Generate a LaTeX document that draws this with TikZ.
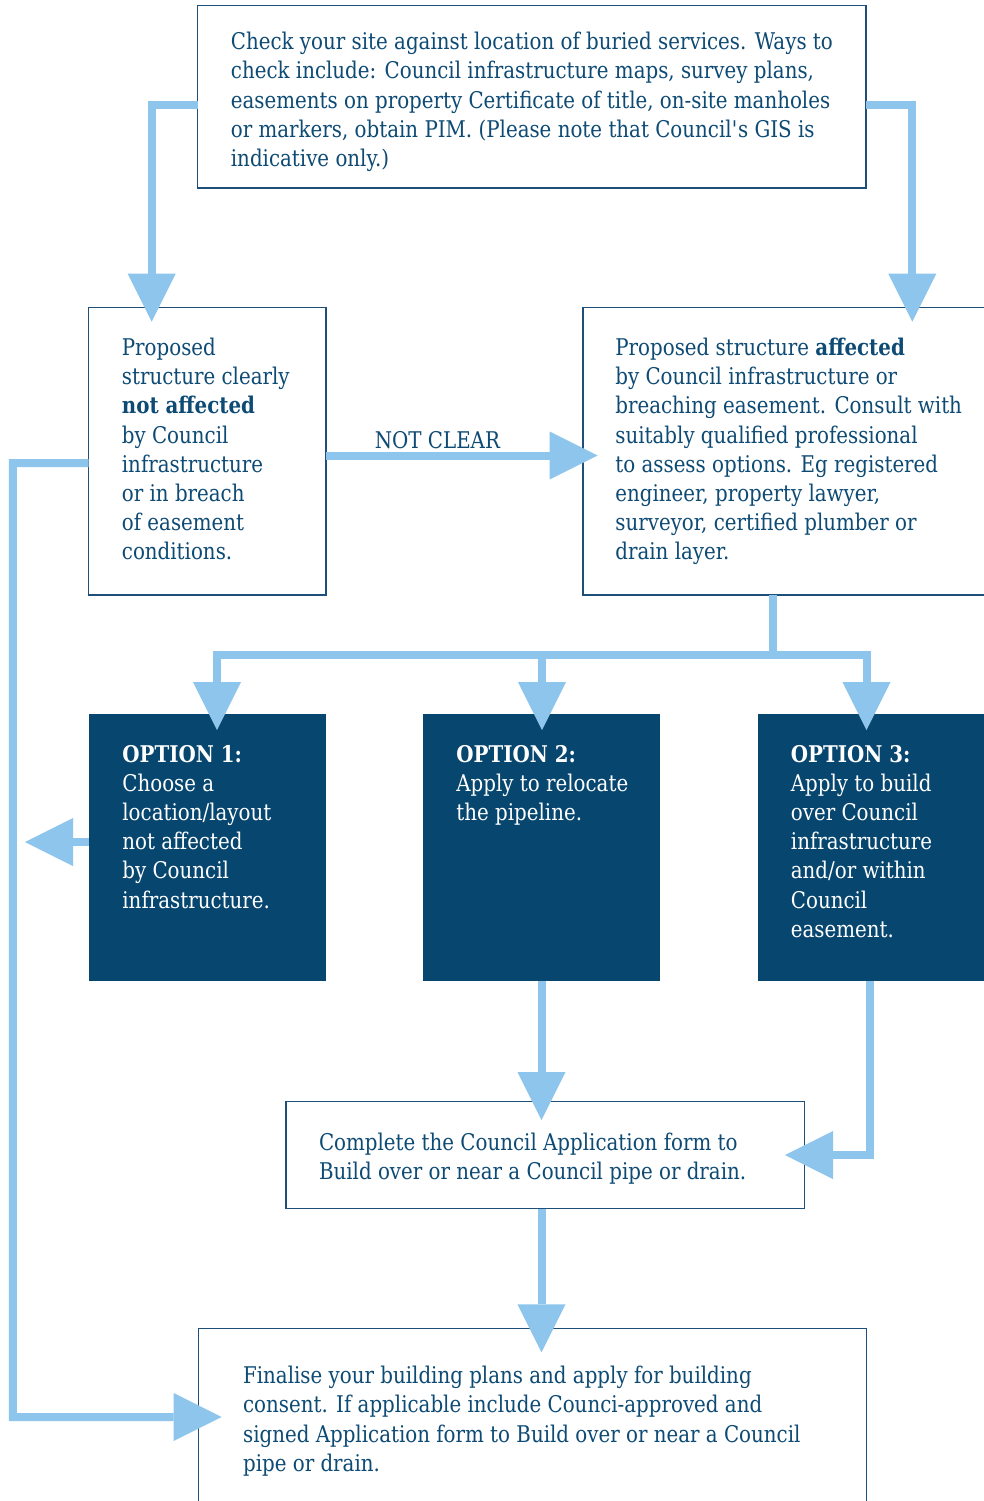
\documentclass[tikz,border=0pt]{standalone}
\usepackage{fontspec}
\setmainfont{DejaVu Serif}[FakeStretch=0.862]
\usetikzlibrary{arrows.meta,calc}
\definecolor{navy}{HTML}{07466F}
\definecolor{txt}{HTML}{0D4A74}
\definecolor{sky}{HTML}{8DC5EC}
\definecolor{edge}{HTML}{1D4F78}
\begin{document}
\begin{tikzpicture}[x=0.5pt,y=-0.5pt,
  box/.style={draw=edge, line width=0.65pt, fill=white, anchor=north west, inner sep=0pt, outer sep=0pt},
  obox/.style={fill=navy, anchor=north west, inner sep=0pt, outer sep=0pt},
  tx/.style={anchor=north west, inner sep=0pt, align=left, text=txt, font=\fontsize{11.5}{14.6}\selectfont},
  wtx/.style={tx, text=white},
  flow/.style={draw=sky, line width=4pt, line join=miter, -{Triangle[length=24pt,width=24pt,line width=0pt]}},
  lab/.style={text=txt, font=\fontsize{11.5}{14.6}\selectfont, inner sep=0pt}
  ]
\useasboundingbox (0,0) rectangle (984,1501);
\clip (0,0) rectangle (984,1501);
\fill[white] (0,0) rectangle (984,1501);

% boxes
\node[box, minimum width=334.25pt, minimum height=91.25pt] (top) at (197.5,5.5) {};
\node[box, minimum width=118.65pt, minimum height=143.65pt] (lbox) at (88.7,307.7) {};
\node[box, minimum width=206pt, minimum height=143.65pt] (rbox) at (583,307.7) {};
\node[obox, minimum width=118.5pt, minimum height=133.25pt] (opt1) at (89,714) {};
\node[obox, minimum width=118.5pt, minimum height=133.25pt] (opt2) at (423,714) {};
\node[obox, minimum width=118.5pt, minimum height=133.25pt] (opt3) at (758,714) {};
\node[box, minimum width=259.25pt, minimum height=53.5pt] (comp) at (286,1101.5) {};
\node[box, minimum width=334pt, minimum height=91pt] (final) at (198.3,1328.3) {};

% texts (top of node = first baseline - 20px)
\node[tx] (ttop) at (230.5,29.3) {\rule{0pt}{10pt}Check your site against location of buried services. Ways to\\
check include: Council infrastructure maps, survey plans,\\
easements on property Certificate of title, on-site manholes\\
or markers, obtain PIM. (Please note that Council\textquotesingle s GIS is\\
indicative only.)};
\node[tx] (tl) at (121.5,335) {\rule{0pt}{10pt}Proposed\\ structure clearly\\ \textbf{not affected}\\ by Council\\ infrastructure\\ or in breach\\ of easement\\ conditions.};
\node[tx] (tr) at (615,335) {\rule{0pt}{10pt}Proposed structure \textbf{affected}\\ by Council infrastructure or\\ breaching easement. Consult with\\ suitably qualified professional\\ to assess options. Eg registered\\ engineer, property lawyer,\\ surveyor, certified plumber or\\ drain layer.};
\node[wtx] (t1) at (122,741.7) {\rule{0pt}{10pt}\textbf{OPTION 1:}\\ Choose a\\ location/layout\\ not affected\\ by Council\\ infrastructure.};
\node[wtx] (t2) at (456,741.7) {\rule{0pt}{10pt}\textbf{OPTION 2:}\\ Apply to relocate\\ the pipeline.};
\node[wtx] (t3) at (790.5,741.7) {\rule{0pt}{10pt}\textbf{OPTION 3:}\\ Apply to build\\ over Council\\ infrastructure\\ and/or within\\ Council\\ easement.};
\node[tx] (tc) at (318.6,1130) {\rule{0pt}{10pt}Complete the Council Application form to\\ Build over or near a Council pipe or drain.};
\node[tx] (tf) at (242.7,1363.3) {\rule{0pt}{10pt}Finalise your building plans and apply for building\\ consent. If applicable include Counci-approved and\\ signed Application form to Build over or near a Council\\ pipe or drain.};

% connectors
\draw[flow] (top.west |- 0,104.5) -| ($(lbox.north west)+(63,14)$);
\draw[flow] (top.east |- 0,104.5) -| ($(rbox.north west)+(329.3,14)$);
\draw[flow] (lbox.east |- 0,455.5) -- node[lab, pos=0.41, anchor=base, yshift=3.6pt] {NOT CLEAR} ($(rbox.west |- 0,455.5)+(14.7,0)$);
\draw[flow] (lbox.west |- 0,463) -- (12.8,463) -- (12.8,1417) -- ($(final.north west)+(23.4,88.7)$);
\draw[flow] ($(rbox.south west)+(190,0)$) |- ($(opt1.north west)+(128,-59)$) -- ($(opt1.north west)+(128,16)$);
\draw[flow] ($(rbox.south west)+(190,0)$) |- ($(opt2.north west)+(119,-59)$) -- ($(opt2.north west)+(119,16)$);
\draw[flow] ($(rbox.south west)+(190,0)$) |- ($(opt3.north west)+(108.5,-59)$) -- ($(opt3.north west)+(108.5,16)$);
\draw[flow] (opt1.west |- 0,842) -- ($(opt1.west |- 0,842)+(-64,0)$);
\draw[flow] (opt2.south) -- ($(opt2.south |- comp.north)+(0,18.5)$);
\draw[flow] ($(opt3.south west)+(112,0)$) |- ($(comp.east)+(-19.5,0)$);
\draw[flow] (opt2.south |- comp.south) -- ($(opt2.south |- final.north)+(0,24)$);
\end{tikzpicture}
\end{document}
